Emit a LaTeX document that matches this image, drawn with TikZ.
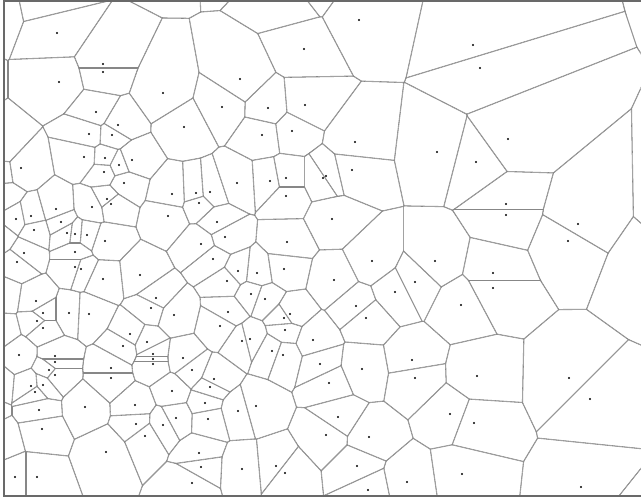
\documentclass[tikz,border=0pt]{standalone}
\definecolor{edgegray}{RGB}{135,135,135}
\definecolor{framegray}{RGB}{105,105,105}
\makeatletter
\newcount\vci \newcount\vcj \newcount\vnpts \newcount\vnvis
\newdimen\vMx \newdimen\vMy \newdimen\vUx \newdimen\vUy
\newdimen\vAx \newdimen\vAy \newdimen\vBx \newdimen\vBy
\def\vL{1400}
\def\vislist{57/33,103/64,103/72,59/82,163/93,96/112,118/125,89/134,112/135,84/157,105/158,132/160,119/165,21/168,
304/49,240/79,222/107,268/108,305/105,184/127,262/135,292/131,359/20,473/45,480/68,355/142,437/152,476/162,352/170,508/139,
104/172,124/183,107/199,111/204,56/209,92/207,16/219,31/216,61/222,34/230,67/233,75/234,87/235,105/241,75/252,24/253,17/262,
75/267,81/269,140/275,103/279,156/298,36/301,151/308,43/313,69/313,89/314,37/321,43/328,130/334,
172/194,196/193,210/192,199/203,237/183,270/181,286/178,286/196,168/216,217/222,225/237,201/244,287/242,213/259,238/271,257/273,
284/269,227/281,251/294,265/299,174/315,228/312,290/314,284/318,220/326,285/330,323/178,326/176,332/219,372/261,435/261,
334/280,415/282,395/292,356/306,461/305,366/318,506/204,506/215,578/224,568/241,493/273,493/288,
147/342,123/346,19/355,55/356,55/362,153/354,153/359,153/364,49/370,55/375,111/368,111/378,31/386,43/385,35/392,39/410,85/407,
135/405,42/429,136/424,145/436,163/425,106/452,15/477,37/477,
183/358,242/341,250/339,313/340,272/351,283/355,320/364,192/370,214/379,210/387,172/391,205/403,238/411,256/406,176/418,208/419,
199/453,201/467,242/469,276/466,285/473,192/483,
362/369,412/360,415/378,477/376,329/383,338/417,450/414,474/423,326/435,369/437,357/466,462/474,407/482,368/490,
569/378,590/399,581/487}
\def\hidlist{-9/8/25600,48/-4/25600,-43/82/25600,3/151/25600,1/171/25600,3/196/25600,1/238/25600,3/296/25600,
1/330/25600,-4/383/25600,-15/410/25600,0/440/25600,165/-57/40000,230/-60/40000,290/-3/25600,308/-17/25600,
775/-30/122500,689/222/72900,646/271/32400,636/531/19600}
\foreach \a/\b in \vislist {\global\advance\vnpts by 1\relax
  \expandafter\xdef\csname vx\the\vnpts\endcsname{\a}%
  \expandafter\xdef\csname vy\the\vnpts\endcsname{\b}}
\global\vnvis=\vnpts
\foreach \a/\b/\c in \hidlist {\global\advance\vnpts by 1\relax
  \expandafter\xdef\csname vx\the\vnpts\endcsname{\a}%
  \expandafter\xdef\csname vy\the\vnpts\endcsname{\b}%
  \expandafter\xdef\csname vc\the\vnpts\endcsname{\c}}
% ---- octant bound of the cell radius
\def\vupd#1#2{%
  \edef\vdd{\the\numexpr(#1)*(#1)+(#2)*(#2)\relax}%
  \ifnum#1<0
    \ifnum#2<0
      \ifnum\numexpr-#1\relax<\numexpr-#2\relax\def\vo{5}\else\def\vo{4}\fi
    \else
      \ifnum\numexpr-#1\relax>#2\relax\def\vo{3}\else\def\vo{2}\fi
    \fi
  \else
    \ifnum#2<0
      \ifnum#1>\numexpr-#2\relax\def\vo{7}\else\def\vo{6}\fi
    \else
      \ifnum#1<#2\relax\def\vo{1}\else\def\vo{0}\fi
    \fi
  \fi
  \ifnum\vdd<\csname vmin\vo\endcsname\relax
    \expandafter\edef\csname vmin\vo\endcsname{\vdd}\fi}
\def\vscan{%
  \ifnum\vcj>\vnpts\else
    \ifnum\vcj=\vci\else
      \edef\va{\the\numexpr\csname vx\the\vcj\endcsname-\vxi\relax}%
      \edef\vb{\the\numexpr\csname vy\the\vcj\endcsname-\vyi\relax}%
      \vupd\va\vb
    \fi
    \advance\vcj by 1\relax
    \expandafter\vscan
  \fi}
\def\vmaxin#1{\ifnum\csname vmin#1\endcsname>\vcut\relax\edef\vcut{\csname vmin#1\endcsname}\fi}
\def\vminall#1{\expandafter\def\csname vmin#1\endcsname{100000000}}
\def\vbound{%
  \vminall0\vminall1\vminall2\vminall3\vminall4\vminall5\vminall6\vminall7%
  \vcj=1\relax \vscan
  \edef\va{\the\numexpr 8-2*\vxi\relax}\def\vb{0}\vupd\va\vb
  \edef\va{\the\numexpr 1282-2*\vxi\relax}\vupd\va\vb
  \def\va{0}\edef\vb{\the\numexpr 2-2*\vyi\relax}\vupd\va\vb
  \edef\vb{\the\numexpr 992-2*\vyi\relax}\vupd\va\vb
  \def\vcut{0}%
  \vmaxin0\vmaxin1\vmaxin2\vmaxin3\vmaxin4\vmaxin5\vmaxin6\vmaxin7%
  \edef\vcut{\the\numexpr 2*\vcut+10\relax}}
% ---- clipping of one cell
\def\vdopair{%
  \edef\vxj{\csname vx\the\vcj\endcsname}%
  \edef\vyj{\csname vy\the\vcj\endcsname}%
  \edef\vdx{\the\numexpr\vxj-\vxi\relax}%
  \edef\vdy{\the\numexpr\vyi-\vyj\relax}%
  \ifnum\numexpr\vdx*\vdx+\vdy*\vdy\relax<\vcut\relax
    \pgfpointnormalised{\pgfqpoint{\vdx pt}{\vdy pt}}%
    \vUx=\pgf@x \vUy=\pgf@y
    \vMx=\dimexpr 0.375pt*\numexpr\vxi+\vxj\relax\relax
    \vMy=\dimexpr 373.5pt-0.375pt*\numexpr\vyi+\vyj\relax\relax
    \vAx=\dimexpr\vMx-\vUy*\vL\relax
    \vAy=\dimexpr\vMy+\vUx*\vL\relax
    \vBx=\dimexpr\vMx+\vUy*\vL\relax
    \vBy=\dimexpr\vMy-\vUx*\vL\relax
    \pgfpathmoveto{\pgfqpoint{\vAx}{\vAy}}%
    \pgfpathlineto{\pgfqpoint{\vBx}{\vBy}}%
    \pgfpathlineto{\pgfqpoint{\dimexpr\vBx-\vUx*\vL\relax}{\dimexpr\vBy-\vUy*\vL\relax}}%
    \pgfpathlineto{\pgfqpoint{\dimexpr\vAx-\vUx*\vL\relax}{\dimexpr\vAy-\vUy*\vL\relax}}%
    \pgfpathclose
    \pgfusepath{clip}%
    \xdef\vbislines{\unexpanded\expandafter{\vbislines}\noexpand\vbisline{\the\vAx}{\the\vAy}{\the\vBx}{\the\vBy}}%
  \fi}
\def\vbisline#1#2#3#4{\pgfpathmoveto{\pgfqpoint{#1}{#2}}\pgfpathlineto{\pgfqpoint{#3}{#4}}\pgfusepath{stroke}}
\def\vinner{%
  \ifnum\vcj>\vnpts\else
    \ifnum\vcj=\vci\else\vdopair\fi
    \advance\vcj by 1\relax
    \expandafter\vinner
  \fi}
\def\vsetcut{%
  \ifnum\vci>\vnvis\relax
    \edef\vcut{\csname vc\the\vci\endcsname}%
  \else
    \vbound
  \fi}
\def\vouter{%
  \ifnum\vci>\vnpts\else
    \edef\vxi{\csname vx\the\vci\endcsname}%
    \edef\vyi{\csname vy\the\vci\endcsname}%
    \vsetcut
    \pgfscope
      \gdef\vbislines{}%
      \vcj=1\relax
      \vinner
      \pgfsetlinewidth{0.8pt}%
      \pgfsetstrokecolor{edgegray}%
      \vbislines
    \endpgfscope
    \advance\vci by 1\relax
    \expandafter\vouter
  \fi}
\makeatother
\begin{document}
\begin{tikzpicture}
\useasboundingbox (0pt,0pt) rectangle (480.75pt,373.5pt);
\begin{scope}
\clip (3pt,1.5pt) rectangle (490pt,372.75pt);
\vci=1\relax
\vouter
\end{scope}
\draw[framegray,line width=1.1pt] (3pt,1.5pt) rectangle (490pt,372.75pt);
\foreach \a/\b in \vislist {\fill[black] (0.75pt*\a,373.5pt-0.75pt*\b) circle[radius=0.85pt];}
\end{tikzpicture}
\end{document}
